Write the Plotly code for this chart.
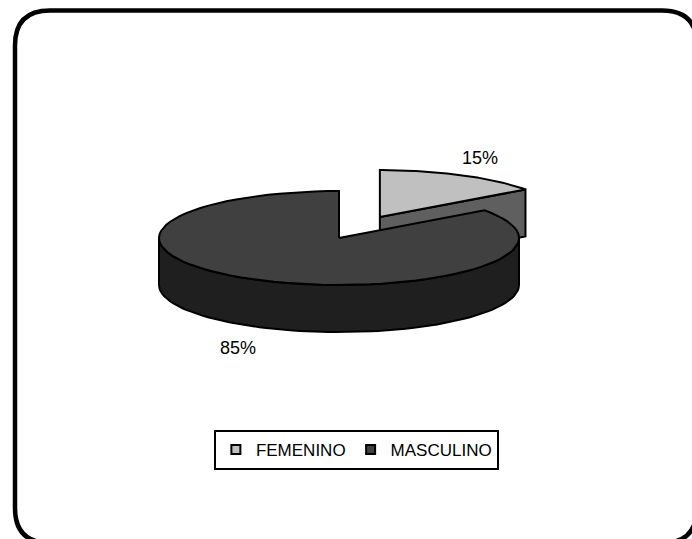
import numpy as np
import plotly.graph_objects as go

# Gender split of the sample
labels = ["FEMENINO", "MASCULINO"]
values = [15, 85]

# Styling per slice
top_colors = ["#C0C0C0", "#404040"]
side_colors = ["#5F5F5F", "#1F1F1F"]
explode = [0.5, 0.0]

# Canvas and 3-D pie geometry (pixel space)
W, H = 692, 539
CX, CY = 339, 238      # centre of the top face
RX, RY = 180, 47       # ellipse radii of the top face
DEPTH = 47             # thickness of the pie
FONT = "Liberation Sans, Arial, sans-serif"


def point(theta, off, dz=0.0):
    """Point on the rim; theta in degrees clockwise from 12 o'clock."""
    t = np.radians(theta)
    return (CX + off[0] + RX * np.sin(t),
            CY + off[1] - RY * np.cos(t) + dz)


def arc(t0, t1, off, dz=0.0, n=80):
    ts = np.linspace(t0, t1, n)
    xs, ys = point(ts, off, dz)
    return list(xs), list(ys)


fig = go.Figure()

total = float(sum(values))
slices = []
start = 0.0
for i, v in enumerate(values):
    span = 360.0 * v / total
    end = start + span
    mid = np.radians(start + span / 2)
    off = (explode[i] * RX * np.sin(mid), -explode[i] * RY * np.cos(mid))
    slices.append(dict(i=i, s=start, e=end, mid=mid, off=off, v=v))
    start = end

# paint the slices lying towards the back first
order = sorted(slices, key=lambda d: -np.cos(d["mid"]))
line = dict(color="black", width=2)

for d in order:
    i, s, e, off = d["i"], d["s"], d["e"], d["off"]
    c0 = (CX + off[0], CY + off[1])

    # radial cut faces that turn towards the viewer
    for ang, vis in ((s, np.sin(np.radians(s)) < -1e-9),
                     (e, np.sin(np.radians(e)) > 1e-9)):
        if vis:
            px, py = point(ang, off)
            xs = [c0[0], px, px, c0[0], c0[0]]
            ys = [c0[1], py, py + DEPTH, c0[1] + DEPTH, c0[1]]
            fig.add_trace(go.Scatter(x=xs, y=ys, mode="lines", fill="toself",
                                     fillcolor=side_colors[i], line=line,
                                     hoverinfo="skip", showlegend=False))

    # curved outer wall on the front half
    a0, a1 = max(s, 90.0), min(e, 270.0)
    if a1 > a0:
        tx, ty = arc(a0, a1, off)
        bx, by = arc(a1, a0, off, DEPTH)
        fig.add_trace(go.Scatter(x=tx + bx + [tx[0]], y=ty + by + [ty[0]],
                                 mode="lines", fill="toself",
                                 fillcolor=side_colors[i], line=line,
                                 hoverinfo="skip", showlegend=False))

    # top face
    tx, ty = arc(s, e, off)
    fig.add_trace(go.Scatter(x=[c0[0]] + tx + [c0[0]], y=[c0[1]] + ty + [c0[1]],
                             mode="lines", fill="toself",
                             fillcolor=top_colors[i], line=line,
                             hoverinfo="skip", showlegend=False))

    # percentage label outside the slice
    m = d["mid"]
    lx = c0[0] + RX * 1.23 * np.sin(m)
    ly = c0[1] - RY * 1.4 * np.cos(m)
    if np.cos(m) < 0:
        ly += DEPTH * 1.1
    fig.add_annotation(x=lx, y=ly, text=f"{round(100 * d['v'] / total)}%",
                       showarrow=False, xanchor="center", yanchor="middle",
                       font=dict(family=FONT, size=18, color="black"))

# legend entries
for i, name in enumerate(labels):
    fig.add_trace(go.Scatter(x=[None], y=[None], mode="markers", name=name,
                             marker=dict(symbol="square", size=9,
                                         color=top_colors[i],
                                         line=dict(color="black", width=2))))

# rounded chart-area frame
x0, y0, x1, y1, r = 15, 10.5, 697, 543, 35
frame = (f"M{x0 + r},{y0} L{x1 - r},{y0} Q{x1},{y0} {x1},{y0 + r} "
         f"L{x1},{y1 - r} Q{x1},{y1} {x1 - r},{y1} L{x0 + r},{y1} "
         f"Q{x0},{y1} {x0},{y1 - r} L{x0},{y0 + r} Q{x0},{y0} {x0 + r},{y0} Z")
fig.add_shape(type="path", path=frame, xref="x", yref="y",
              line=dict(color="black", width=4.5), layer="above")

fig.update_layout(
    width=W, height=H,
    margin=dict(l=0, r=0, t=0, b=0),
    paper_bgcolor="white", plot_bgcolor="white",
    xaxis=dict(range=[0, W], visible=False, fixedrange=True),
    yaxis=dict(range=[H, 0], visible=False, fixedrange=True),
    showlegend=True,
    legend=dict(orientation="h", x=0.515, xanchor="center",
                y=1 - 450 / H, yanchor="middle",
                bordercolor="black", borderwidth=2, bgcolor="white",
                itemwidth=30, font=dict(family=FONT, size=17, color="black")),
)

fig.write_html("out.html")
